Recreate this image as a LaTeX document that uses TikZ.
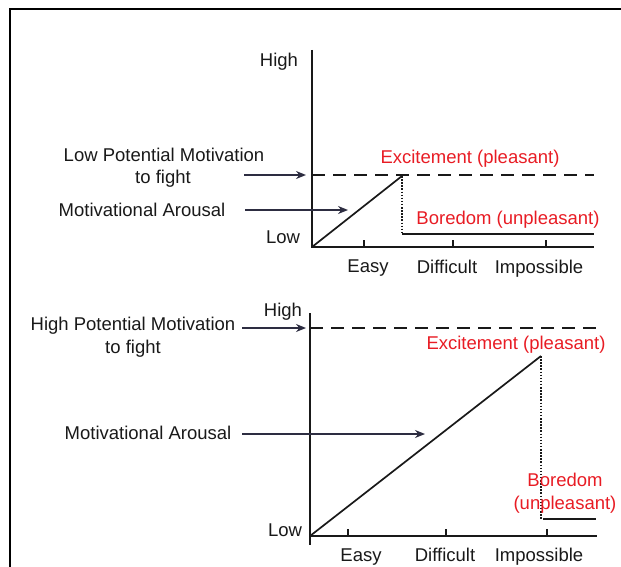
\documentclass[tikz,border=0pt]{standalone}
\usepackage{fontspec}
\setmainfont{Liberation Sans}
\usetikzlibrary{arrows.meta}
\definecolor{ink}{RGB}{25,25,25}
\definecolor{redtxt}{RGB}{232,28,36}
\definecolor{arrowc}{RGB}{45,45,65}
\tikzset{
  x=1pt, y=-1pt,
  lbl/.style={anchor=base, inner sep=0pt, text=ink, font=\fontsize{18.5}{22}\selectfont},
  redlbl/.style={lbl, text=redtxt},
  axis/.style={draw=ink, line width=1.7pt},
  tick/.style={draw=ink, line width=1.2pt},
  dashln/.style={draw=ink, line width=1.5pt, dash pattern=on 13pt off 8pt},
  dotln/.style={draw=ink, line width=2.4pt, dash pattern=on 1.5pt off 1.6pt},
  pointer/.style={draw=arrowc, line width=1.5pt, -{Stealth[length=10pt,width=8pt]}},
  frameln/.style={draw=black, line width=2pt}
}
\begin{document}
\begin{tikzpicture}
\useasboundingbox (0,0) rectangle (621,567);
% frame
\coordinate (fbl) at (10,567);
\coordinate (ftl) at (10,9);
\coordinate (ftr) at (621,9);
\draw[frameln] (fbl) -- (ftl) -- (ftr);

% ===== top chart =====
\coordinate (o1) at (312,247);
\coordinate (y1) at (312,50);
\coordinate (x1) at (594,247);
\draw[axis] (y1) -- (o1) -- (x1);
\foreach \t/\xx in {a/364,b/453,c/546}{
  \coordinate (t1\t) at (\xx,247);
  \coordinate (t1\t u) at (\xx,240);
  \draw[tick] (t1\t) -- (t1\t u);
}
\coordinate (d1s) at (312,175);
\coordinate (d1e) at (594,175);
\draw[dashln] (d1s) -- (d1e);
\coordinate (p1) at (402,176);
\coordinate (b1s) at (402,234);
\coordinate (b1e) at (594,234);
\draw[axis] (o1) -- (p1);
\draw[dotln] (p1) -- (b1s);
\draw[axis] (b1s) -- (b1e);

\node[lbl] (high1) at (279,66.5) {High};
\node[lbl] (low1) at (283,243.5) {Low};
\node[lbl] (lpm1) at (164,161) {Low Potential Motivation};
\node[lbl] (lpm2) at (163,183) {to fight};
\node[lbl] (ma1) at (142,216.5) {Motivational Arousal};
\node[redlbl] (ex1) at (470,164) {Excitement (pleasant)};
\node[redlbl] (bo1) at (508,224) {Boredom (unpleasant)};
\node[lbl] (ea1) at (368,272) {Easy};
\node[lbl] (di1) at (447,273) {Difficult};
\node[lbl] (im1) at (539,273) {Impossible};

\coordinate (a1s) at (244,175);
\coordinate (a1e) at (306,175);
\draw[pointer] (a1s) -- (a1e);
\coordinate (a2s) at (245,210);
\coordinate (a2e) at (348,210);
\draw[pointer] (a2s) -- (a2e);

% ===== bottom chart =====
\coordinate (o2) at (310,536);
\coordinate (y2) at (310,313);
\coordinate (y2b) at (310,545);
\coordinate (x2) at (597,536);
\draw[axis] (y2) -- (y2b);
\draw[axis] (o2) -- (x2);
\foreach \t/\xx in {a/348,b/446,c/547}{
  \coordinate (t2\t) at (\xx,536);
  \coordinate (t2\t u) at (\xx,529);
  \draw[tick] (t2\t) -- (t2\t u);
}
\coordinate (d2s) at (310,328);
\coordinate (d2e) at (602,328);
\draw[dashln] (d2s) -- (d2e);
\coordinate (p2) at (541,356);
\coordinate (b2s) at (541,519);
\coordinate (b2a) at (543,519);
\coordinate (b2e) at (596,519);
\draw[axis] (o2) -- (p2);
\draw[dotln] (p2) -- (b2s);
\draw[axis] (b2a) -- (b2e);

\node[lbl] (high2) at (283,316) {High};
\node[lbl] (low2) at (285,536) {Low};
\node[lbl] (hpm1) at (133,330) {High Potential Motivation};
\node[lbl] (hpm2) at (133,353) {to fight};
\node[lbl] (ma2) at (148,439) {Motivational Arousal};
\node[redlbl] (ex2) at (516,349) {Excitement (pleasant)};
\node[redlbl] (bo2a) at (565,486) {Boredom};
\node[redlbl] (bo2b) at (565,509) {(unpleasant)};
\node[lbl] (ea2) at (361,561) {Easy};
\node[lbl] (di2) at (445,561) {Difficult};
\node[lbl] (im2) at (539,561) {Impossible};

\coordinate (a3s) at (242,328);
\coordinate (a3e) at (306,328);
\draw[pointer] (a3s) -- (a3e);
\coordinate (a4s) at (242,434);
\coordinate (a4e) at (425,434);
\draw[pointer] (a4s) -- (a4e);
\end{tikzpicture}
\end{document}
